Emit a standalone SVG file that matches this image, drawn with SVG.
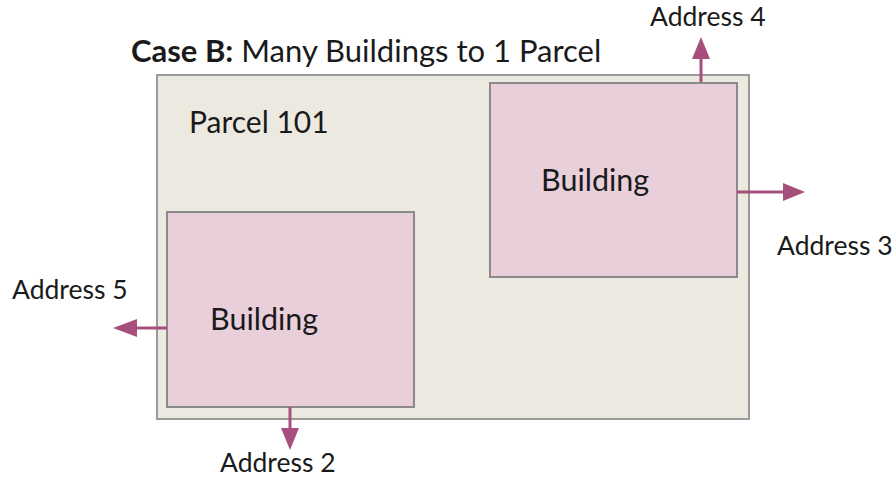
<svg xmlns="http://www.w3.org/2000/svg" width="893" height="479" viewBox="0 0 893 479">
<defs>
<style>
.t{font-family:Lato,"Open Sans","Liberation Sans",sans-serif;fill:#1a1a1a}
.addr{font-size:26.5px}
.bld{fill:#e8cfda;stroke:#8a8a8a;stroke-width:2}
.conn{stroke:#a64f7c;stroke-width:3;fill:none}
.head{fill:#a64f7c}
</style>
</defs>
<rect width="893" height="479" fill="#ffffff"/>
<text class="t" x="131" y="62" font-size="31"><tspan font-weight="bold">Case B:</tspan> Many Buildings to 1 Parcel</text>
<g id="parcel">
<rect x="157" y="75" width="592" height="344" fill="#eceae0" stroke="#9a9a9a" stroke-width="2"/>
<text class="t" x="189" y="133" font-size="30">Parcel 101</text>
</g>
<g id="building1">
<rect class="bld" x="490" y="83" width="247" height="194"/>
<text class="t" x="541" y="191" font-size="30.5">Building</text>
</g>
<g id="building2">
<rect class="bld" x="167" y="212" width="247" height="195"/>
<text class="t" x="210" y="330" font-size="30.5">Building</text>
</g>
<g id="connectors">
<line class="conn" x1="701" y1="82" x2="701" y2="58"/>
<path class="head" d="M692,59 L710,59 L701,37 z"/>
<line class="conn" x1="737" y1="192" x2="785" y2="192"/>
<path class="head" d="M783,183 L783,201 L805,192 z"/>
<line class="conn" x1="167" y1="328" x2="135" y2="328"/>
<path class="head" d="M137,319 L137,337 L113,328 z"/>
<line class="conn" x1="290" y1="407" x2="290" y2="430"/>
<path class="head" d="M281,428 L299,428 L290,450 z"/>
</g>
<g id="address4"><text class="t addr" x="650" y="26">Address 4</text></g>
<g id="address3"><text class="t addr" x="777" y="255">Address 3</text></g>
<g id="address5"><text class="t addr" x="12" y="299">Address 5</text></g>
<g id="address2"><text class="t addr" x="220" y="472">Address 2</text></g>
</svg>
